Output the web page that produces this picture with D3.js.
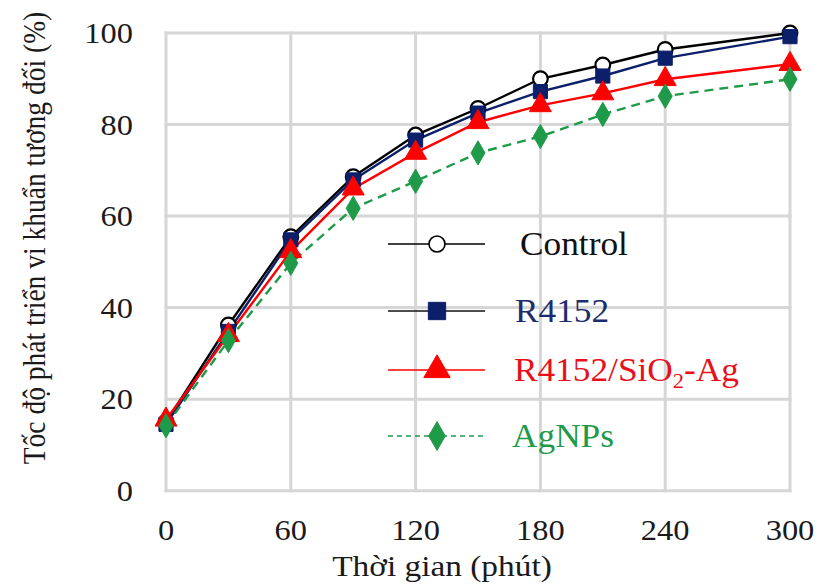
<!DOCTYPE html>
<html>
<head>
<meta charset="utf-8">
<script src="https://cdn.jsdelivr.net/npm/d3@7"></script>
<style>
  body { margin: 0; background: #fff; }
  svg text { font-family: "Liberation Serif", "Times New Roman", serif; }
</style>
</head>
<body>
<svg id="chart" width="822" height="584"></svg>
<script>
// time points (minutes)
var times = [0, 30, 60, 90, 120, 150, 180, 210, 240, 300];
// relative growth (%)
var control = [15, 36.2, 55.5, 68.6, 77.7, 83.5, 90, 93, 96.4, 100];
var r4152 = [14.5, 34.8, 54.8, 67.9, 76.6, 82.5, 87.2, 90.6, 94.5, 99.2];
var r4152SiAg = [15.5, 34, 52.3, 66, 73.8, 80.5, 84.2, 86.8, 89.9, 93.2];
var agnps = [14.2, 32.8, 49.7, 61.7, 67.6, 73.8, 77.4, 82.2, 86.2, 89.9];
var xTicks = [0, 60, 120, 180, 240, 300];
var yTicks = [0, 20, 40, 60, 80, 100];

var svg = d3.select("#chart");
var x = d3.scaleLinear().domain([0, 300]).range([166, 790]);
var y = d3.scaleLinear().domain([0, 100]).range([490.7, 33]);

// grid
var grid = svg.append("g");
grid.selectAll(".gx").data(xTicks).enter().append("line")
  .attr("x1", function (d) { return x(d); }).attr("x2", function (d) { return x(d); })
  .attr("y1", y(0) + 1.5).attr("y2", y(100) - 1.5)
  .attr("stroke", "#d6d6d6").attr("stroke-width", 3);
grid.selectAll(".gy").data(yTicks).enter().append("line")
  .attr("x1", x(0) - 1.5).attr("x2", x(300) + 1.5)
  .attr("y1", function (d) { return y(d); }).attr("y2", function (d) { return y(d); })
  .attr("stroke", "#d6d6d6").attr("stroke-width", 3);

// tick labels (the source picture is stretched a little horizontally)
svg.selectAll(".ty").data(yTicks).enter().append("text")
  .attr("transform", function (d) { return "translate(133," + (y(d) + 10) + ") scale(1.12,1)"; })
  .attr("text-anchor", "end").attr("font-size", 29).attr("fill", "#1a1a1a")
  .text(function (d) { return d; });
svg.selectAll(".tx").data(xTicks).enter().append("text")
  .attr("transform", function (d) { return "translate(" + x(d) + ",540) scale(1.12,1)"; })
  .attr("text-anchor", "middle").attr("font-size", 29).attr("fill", "#1a1a1a")
  .text(function (d) { return d; });

svg.append("text").attr("transform", "translate(442,576) scale(1.15,1)")
  .attr("text-anchor", "middle").attr("font-size", 29).attr("fill", "#1a1a1a")
  .text("Thời gian (phút)");
svg.append("text").attr("transform", "translate(45,238) scale(1.12,1) rotate(-90)")
  .attr("text-anchor", "middle").attr("font-size", 27.5).attr("fill", "#1a1a1a")
  .text("Tốc độ phát triển vi khuẩn tương đối (%)");

var sym = {
  circle: d3.symbol().type(d3.symbolCircle).size(170),
  square: d3.symbol().type(d3.symbolSquare).size(200),
  triangle: d3.symbol().type(d3.symbolTriangle).size(210),
  diamond: d3.symbol().type(d3.symbolDiamond).size(170)
};
var legSym = {
  circle: d3.symbol().type(d3.symbolCircle).size(200),
  square: d3.symbol().type(d3.symbolSquare).size(300),
  triangle: d3.symbol().type(d3.symbolTriangle).size(300),
  diamond: d3.symbol().type(d3.symbolDiamond).size(240)
};

var series = [
  { name: "Control", values: control, color: "#000", line: "#000", dash: null, marker: "circle", fill: "#fff", text: "#111" },
  { name: "R4152", values: r4152, color: "#0b1f6a", line: "#0b1f6a", dash: null, marker: "square", fill: "#0b1f6a", text: "#1d2c6e" },
  { name: "R4152/SiO2-Ag", values: r4152SiAg, color: "#ff0000", line: "#ff0000", dash: null, marker: "triangle", fill: "#ff0000", text: "#e8101a" },
  { name: "AgNPs", values: agnps, color: "#1e9a48", line: "#1e9a48", dash: "9,6", marker: "diamond", fill: "#1e9a48", text: "#1e9a48" }
];

var line = d3.line()
  .x(function (d) { return x(d[0]); })
  .y(function (d) { return y(d[1]); });

series.forEach(function (s) {
  var pts = times.map(function (t, i) { return [t, s.values[i]]; });
  svg.append("path").attr("d", line(pts))
    .attr("fill", "none").attr("stroke", s.line).attr("stroke-width", 2.4)
    .attr("stroke-dasharray", s.dash);
});
series.forEach(function (s) {
  var pts = times.map(function (t, i) { return [t, s.values[i]]; });
  svg.selectAll(null).data(pts).enter().append("path")
    .attr("d", sym[s.marker])
    .attr("transform", function (d) { return "translate(" + x(d[0]) + "," + y(d[1]) + ")"; })
    .attr("fill", s.fill).attr("stroke", s.color).attr("stroke-width", s.marker === "circle" ? 2.2 : 1);
});

// legend (no background: the grid shows through it)
var legendRows = [
  { s: series[0], y: 244, tx: 520 },
  { s: series[1], y: 311, tx: 515 },
  { s: series[2], y: 370, tx: 514 },
  { s: series[3], y: 436, tx: 512 }
];
legendRows.forEach(function (r) {
  var s = r.s;
  var g = svg.append("g");
  g.append("line").attr("x1", 388).attr("x2", 485).attr("y1", r.y).attr("y2", r.y)
    .attr("stroke", s.name === "R4152" ? "#111" : s.line).attr("stroke-width", 1.6)
    .attr("stroke-dasharray", s.dash ? "5,4" : null);
  g.append("path").attr("d", legSym[s.marker])
    .attr("transform", "translate(437," + r.y + ")")
    .attr("fill", s.fill).attr("stroke", s.color).attr("stroke-width", s.marker === "circle" ? 1.6 : 1);
  var t = g.append("text")
    .attr("transform", "translate(" + r.tx + "," + (r.y + 11) + ") scale(1.07,1)")
    .attr("font-size", 33).attr("fill", s.text);
  if (s.name === "R4152/SiO2-Ag") {
    t.append("tspan").text("R4152/SiO");
    t.append("tspan").attr("dy", 7).attr("font-size", 21).text("2");
    t.append("tspan").attr("dy", -7).text("-Ag");
  } else {
    t.text(s.name);
  }
});
</script>
</body>
</html>
